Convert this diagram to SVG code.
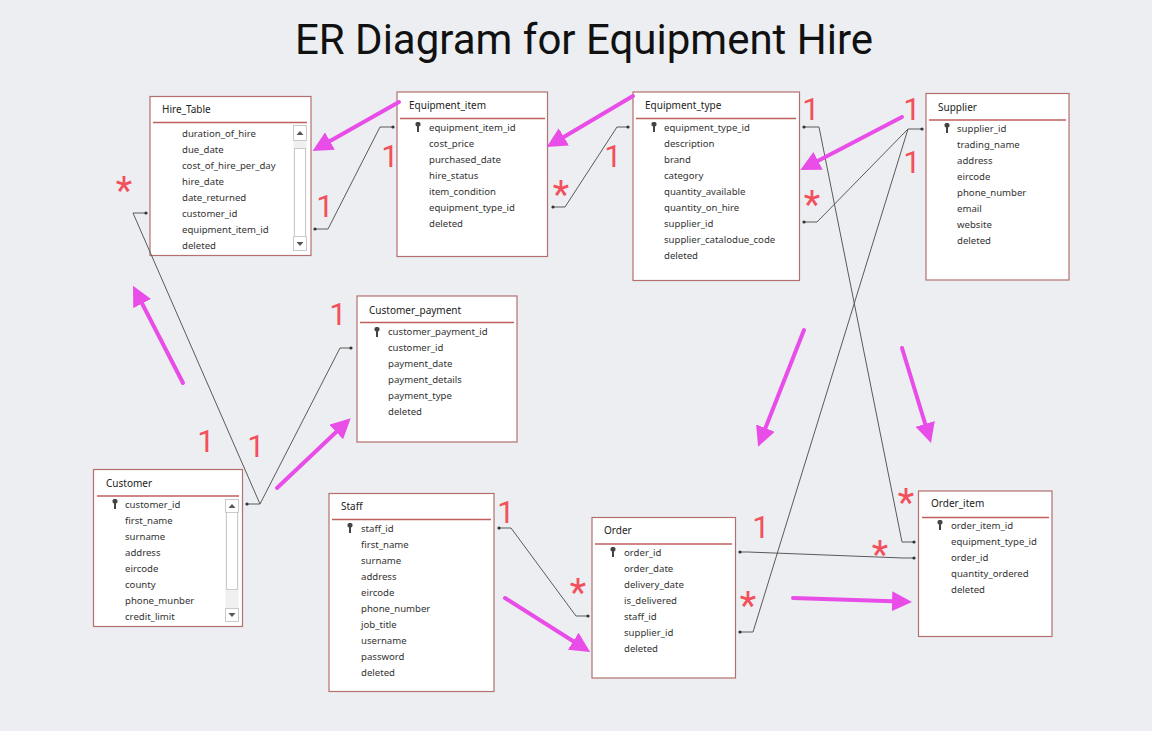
<svg xmlns="http://www.w3.org/2000/svg" width="1152" height="731" viewBox="0 0 1152 731">
<defs>
<style>
.bg{fill:#eceef1}
.tbl{fill:#ffffff;stroke:#b3706f;stroke-width:1.2}
.sep{stroke:#c0605e;stroke-width:1.5}
.hd{font-family:"Noto Sans","Open Sans",sans-serif;font-size:10px;fill:#222}
.row{font-family:"Noto Sans","Open Sans",sans-serif;font-size:9.6px;fill:#333}
.key{fill:#444}
.conn{fill:none;stroke:#5a5a5a;stroke-width:1}
.dot{fill:#333}
.lbl1{font-family:Roboto,"Liberation Sans",sans-serif;font-size:31px;fill:#f2505c;text-anchor:middle}
.lbls{font-family:Roboto,"Liberation Sans",sans-serif;font-size:38px;fill:#f2505c;text-anchor:middle}
.mag{fill:none;stroke:#e94de8;stroke-width:4;stroke-linecap:round}
.sb{fill:#ffffff;stroke:#c9c9c9;stroke-width:1}
.sbt{fill:#f0f0f0}
.tri{fill:#555}
</style>
<marker id="ah" viewBox="0 0 20 20" refX="8" refY="10" markerWidth="20" markerHeight="20" markerUnits="userSpaceOnUse" orient="auto">
<path d="M0,0 L20,10 L0,20 Z" fill="#e94de8"/>
</marker>
<g id="keyicon">
<rect x="-2.5" y="-6" width="5" height="4.5" rx="1.8" class="key"/>
<rect x="-1" y="-2" width="2" height="6" class="key"/>
</g>
</defs>
<rect class="bg" x="0" y="0" width="1152" height="731"/>
<text x="584" y="54" font-family="Roboto,'Noto Sans',sans-serif" font-size="42" fill="#111" text-anchor="middle">ER Diagram for Equipment Hire</text>

<!-- Hire_Table -->
<g id="hire_table">
<rect class="tbl" x="150" y="96.5" width="161" height="159"/>
<text class="hd" x="162" y="113">Hire_Table</text>
<line class="sep" x1="153" y1="122.5" x2="307" y2="122.5"/>
<text class="row" x="182" y="137">duration_of_hire</text>
<text class="row" x="182" y="153">due_date</text>
<text class="row" x="182" y="169">cost_of_hire_per_day</text>
<text class="row" x="182" y="185">hire_date</text>
<text class="row" x="182" y="201">date_returned</text>
<text class="row" x="182" y="217">customer_id</text>
<text class="row" x="182" y="233">equipment_item_id</text>
<text class="row" x="182" y="249">deleted</text>
<rect class="sbt" x="293.5" y="125.5" width="13" height="125"/>
<rect class="sb" x="293.5" y="125.5" width="13" height="15"/>
<path class="tri" d="M296.5,135 L300,131 L303.5,135 Z"/>
<rect class="sb" x="294.5" y="148.5" width="11" height="88"/>
<rect class="sb" x="293.5" y="236.5" width="13" height="14"/>
<path class="tri" d="M296.5,242 L300,246 L303.5,242 Z"/>
</g>

<!-- Equipment_item -->
<g id="equipment_item">
<rect class="tbl" x="397" y="92" width="150.5" height="164.5"/>
<text class="hd" x="409" y="109">Equipment_item</text>
<line class="sep" x1="400" y1="118.5" x2="545" y2="118.5"/>
<use href="#keyicon" x="418" y="128"/>
<text class="row" x="429" y="131">equipment_item_id</text>
<text class="row" x="429" y="147">cost_price</text>
<text class="row" x="429" y="163">purchased_date</text>
<text class="row" x="429" y="179">hire_status</text>
<text class="row" x="429" y="195">item_condition</text>
<text class="row" x="429" y="211">equipment_type_id</text>
<text class="row" x="429" y="227">deleted</text>
</g>

<!-- Equipment_type -->
<g id="equipment_type">
<rect class="tbl" x="633" y="92" width="166.5" height="188.5"/>
<text class="hd" x="645" y="109">Equipment_type</text>
<line class="sep" x1="636" y1="118.5" x2="796" y2="118.5"/>
<use href="#keyicon" x="654" y="128"/>
<text class="row" x="664" y="131">equipment_type_id</text>
<text class="row" x="664" y="147">description</text>
<text class="row" x="664" y="163">brand</text>
<text class="row" x="664" y="179">category</text>
<text class="row" x="664" y="195">quantity_available</text>
<text class="row" x="664" y="211">quantity_on_hire</text>
<text class="row" x="664" y="227">supplier_id</text>
<text class="row" x="664" y="243">supplier_catalodue_code</text>
<text class="row" x="664" y="259">deleted</text>
</g>

<!-- Supplier -->
<g id="supplier">
<rect class="tbl" x="926" y="93.5" width="143" height="186.5"/>
<text class="hd" x="938" y="111">Supplier</text>
<line class="sep" x1="929" y1="120" x2="1066" y2="120"/>
<use href="#keyicon" x="947" y="129"/>
<text class="row" x="957" y="132">supplier_id</text>
<text class="row" x="957" y="148">trading_name</text>
<text class="row" x="957" y="164">address</text>
<text class="row" x="957" y="180">eircode</text>
<text class="row" x="957" y="196">phone_number</text>
<text class="row" x="957" y="212">email</text>
<text class="row" x="957" y="228">website</text>
<text class="row" x="957" y="244">deleted</text>
</g>

<!-- Customer_payment -->
<g id="customer_payment">
<rect class="tbl" x="357" y="296" width="160" height="146"/>
<text class="hd" x="369" y="314">Customer_payment</text>
<line class="sep" x1="360" y1="322.5" x2="514" y2="322.5"/>
<use href="#keyicon" x="377" y="333"/>
<text class="row" x="388" y="335">customer_payment_id</text>
<text class="row" x="388" y="351">customer_id</text>
<text class="row" x="388" y="367">payment_date</text>
<text class="row" x="388" y="383">payment_details</text>
<text class="row" x="388" y="399">payment_type</text>
<text class="row" x="388" y="415">deleted</text>
</g>

<!-- Customer -->
<g id="customer">
<rect class="tbl" x="93.5" y="469.5" width="149" height="157"/>
<text class="hd" x="106" y="487">Customer</text>
<line class="sep" x1="97" y1="496" x2="239" y2="496"/>
<use href="#keyicon" x="115" y="505"/>
<text class="row" x="125" y="508">customer_id</text>
<text class="row" x="125" y="524">first_name</text>
<text class="row" x="125" y="540">surname</text>
<text class="row" x="125" y="556">address</text>
<text class="row" x="125" y="572">eircode</text>
<text class="row" x="125" y="588">county</text>
<text class="row" x="125" y="604">phone_munber</text>
<text class="row" x="125" y="620">credit_limit</text>
<rect class="sbt" x="225.5" y="499.5" width="13" height="122"/>
<rect class="sb" x="225.5" y="499.5" width="13" height="13"/>
<path class="tri" d="M228.5,508 L232,504 L235.5,508 Z"/>
<rect class="sb" x="226.5" y="512.5" width="11" height="77"/>
<rect class="sb" x="225.5" y="608.5" width="13" height="13"/>
<path class="tri" d="M228.5,613 L232,617 L235.5,613 Z"/>
</g>

<!-- Staff -->
<g id="staff">
<rect class="tbl" x="329" y="493.5" width="165" height="198"/>
<text class="hd" x="341" y="510">Staff</text>
<line class="sep" x1="332" y1="519.5" x2="491" y2="519.5"/>
<use href="#keyicon" x="350" y="529"/>
<text class="row" x="361" y="532">staff_id</text>
<text class="row" x="361" y="548">first_name</text>
<text class="row" x="361" y="564">surname</text>
<text class="row" x="361" y="580">address</text>
<text class="row" x="361" y="596">eircode</text>
<text class="row" x="361" y="612">phone_number</text>
<text class="row" x="361" y="628">job_title</text>
<text class="row" x="361" y="644">username</text>
<text class="row" x="361" y="660">password</text>
<text class="row" x="361" y="676">deleted</text>
</g>

<!-- Order -->
<g id="order">
<rect class="tbl" x="592" y="517.5" width="143.5" height="160.5"/>
<text class="hd" x="604" y="534">Order</text>
<line class="sep" x1="595" y1="544" x2="732" y2="544"/>
<use href="#keyicon" x="613" y="553"/>
<text class="row" x="624" y="556">order_id</text>
<text class="row" x="624" y="572">order_date</text>
<text class="row" x="624" y="588">delivery_date</text>
<text class="row" x="624" y="604">is_delivered</text>
<text class="row" x="624" y="620">staff_id</text>
<text class="row" x="624" y="636">supplier_id</text>
<text class="row" x="624" y="652">deleted</text>
</g>

<!-- Order_item -->
<g id="order_item">
<rect class="tbl" x="918.5" y="491" width="133.5" height="145.5"/>
<text class="hd" x="931" y="507">Order_item</text>
<line class="sep" x1="922" y1="517.5" x2="1049" y2="517.5"/>
<use href="#keyicon" x="940" y="526"/>
<text class="row" x="951" y="529">order_item_id</text>
<text class="row" x="951" y="545">equipment_type_id</text>
<text class="row" x="951" y="561">order_id</text>
<text class="row" x="951" y="577">quantity_ordered</text>
<text class="row" x="951" y="593">deleted</text>
</g>

<!-- connectors -->
<g id="connectors">
<polyline class="conn" points="315,229 328,229 380,127 394,127"/>
<polyline class="conn" points="147,213 133,213 260,504 246,504"/>
<polyline class="conn" points="260,504 340,348 352,348"/>
<polyline class="conn" points="553,207 565,207 617,127 629,127"/>
<polyline class="conn" points="804,222 817,222 908,129 923,129"/>
<polyline class="conn" points="908,129 753,632 740,632"/>
<polyline class="conn" points="804,127 819,127 902,542 915,542"/>
<polyline class="conn" points="740,552 748,552 903,558 915,558"/>
<polyline class="conn" points="499,528 511,528 576,616 589,616"/>
<g class="dot">
<circle cx="315" cy="229" r="1.6"/><circle cx="393" cy="127" r="1.6"/>
<circle cx="146" cy="213" r="1.6"/><circle cx="247" cy="504" r="1.6"/>
<circle cx="351" cy="348" r="1.6"/>
<circle cx="553" cy="207" r="1.6"/><circle cx="628" cy="127" r="1.6"/>
<circle cx="804" cy="222" r="1.6"/><circle cx="922" cy="129" r="1.6"/>
<circle cx="740" cy="632" r="1.6"/>
<circle cx="804" cy="127" r="1.6"/><circle cx="914" cy="542" r="1.6"/>
<circle cx="740" cy="552" r="1.6"/><circle cx="914" cy="558" r="1.6"/>
<circle cx="499" cy="528" r="1.6"/><circle cx="588" cy="616" r="1.6"/>
</g>
</g>

<!-- magenta arrows -->
<g id="arrows">
<line class="mag" x1="399" y1="102" x2="323" y2="145" marker-end="url(#ah)"/>
<line class="mag" x1="633" y1="96" x2="557" y2="141" marker-end="url(#ah)"/>
<line class="mag" x1="902" y1="117" x2="811" y2="164.5" marker-end="url(#ah)"/>
<line class="mag" x1="183" y1="383" x2="138.5" y2="296.5" marker-end="url(#ah)"/>
<line class="mag" x1="277" y1="488" x2="342" y2="426.5" marker-end="url(#ah)"/>
<line class="mag" x1="804" y1="330" x2="762.5" y2="435.5" marker-end="url(#ah)"/>
<line class="mag" x1="902" y1="348" x2="927.5" y2="431.5" marker-end="url(#ah)"/>
<line class="mag" x1="505" y1="598" x2="580" y2="645.5" marker-end="url(#ah)"/>
<line class="mag" x1="793" y1="598" x2="900" y2="601.5" marker-end="url(#ah)"/>
</g>

<!-- cardinality labels -->
<g id="labels">
<text class="lbls" x="124" y="204">*</text>
<text class="lbl1" x="325" y="217">1</text>
<text class="lbl1" x="390" y="167">1</text>
<text class="lbls" x="561" y="208">*</text>
<text class="lbl1" x="613" y="167">1</text>
<text class="lbl1" x="811" y="120">1</text>
<text class="lbl1" x="912" y="120">1</text>
<text class="lbl1" x="912" y="173">1</text>
<text class="lbls" x="812" y="218">*</text>
<text class="lbl1" x="338" y="325">1</text>
<text class="lbl1" x="206" y="452">1</text>
<text class="lbl1" x="256" y="457">1</text>
<text class="lbl1" x="506" y="523">1</text>
<text class="lbls" x="578" y="606">*</text>
<text class="lbl1" x="761" y="538">1</text>
<text class="lbls" x="748" y="619">*</text>
<text class="lbls" x="906" y="516">*</text>
<text class="lbls" x="880" y="568">*</text>
</g>
</svg>
